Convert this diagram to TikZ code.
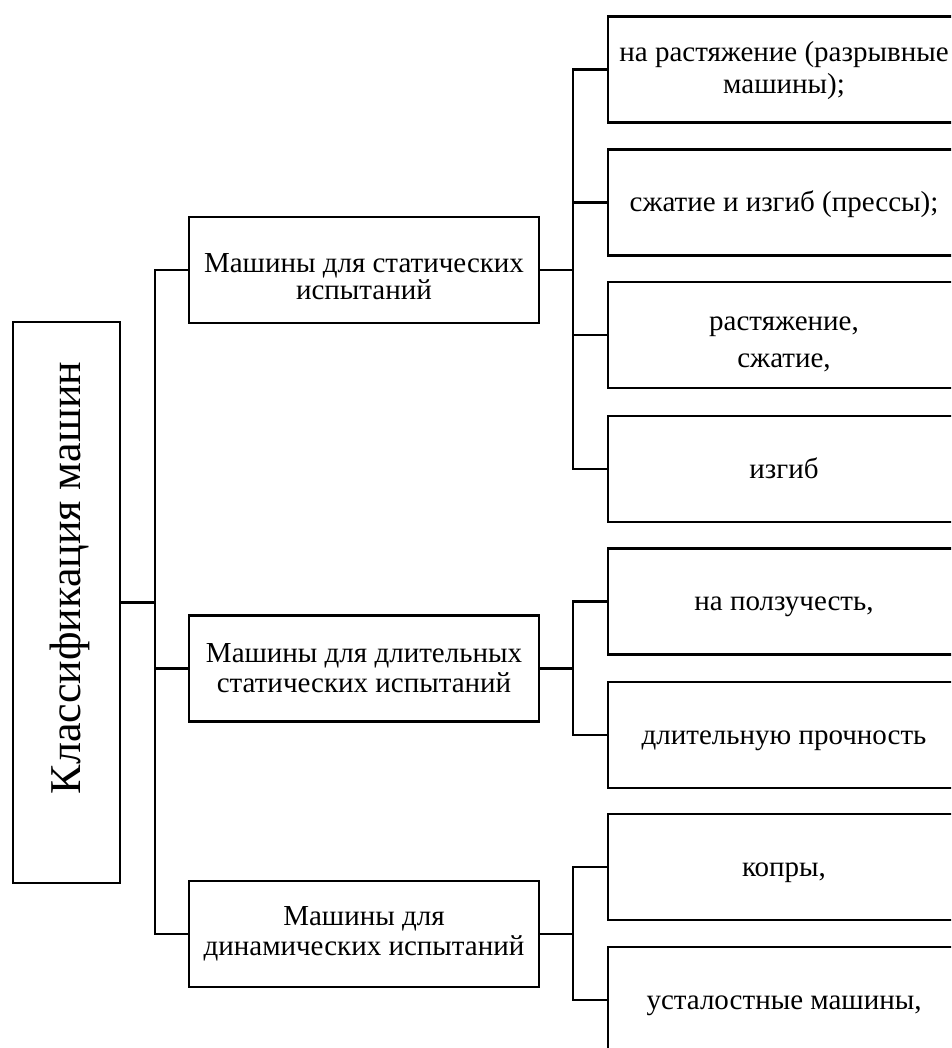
\documentclass[tikz,border=0pt]{standalone}
\usepackage{fontspec}
\setmainfont{Liberation Serif}
\lineskiplimit=-100pt
\begin{document}
\begin{tikzpicture}[x=1pt,y=-1pt,
  box/.style={draw=black, line width=2.2pt, fill=white, align=center, inner sep=0pt},
  mainbox/.style={box, minimum width=107pt, minimum height=561pt},
  catbox/.style={box, minimum width=350pt, minimum height=106pt},
  leafbox/.style={box, minimum width=352pt, minimum height=106pt, font=\fontsize{29}{28}\selectfont, text height=24pt, text depth=5.4pt},
  txt/.style={align=center, inner sep=0pt},
  conn/.style={draw=black, line width=2.2pt}]
\useasboundingbox (0,0) rectangle (951,1048);
\clip (0,0) rectangle (951,1048);
% main box
\node[mainbox] (main) at (66.5,602.5) {};
\node[rotate=90, anchor=base, inner sep=0pt, font=\fontsize{44}{50}\selectfont] (maintext) at (80,578) {Классификация машин};
% categories
\node[catbox] (A) at (364,270) {};
\node[txt, font=\fontsize{29}{27}\selectfont] (At) at ([yshift=-7pt]A.center) {Машины для статических\\испытаний};
\node[catbox] (B) at (364,668.5) {};
\node[txt, font=\fontsize{29}{30}\selectfont] (Bt) at (B.center) {Машины для длительных\\статических испытаний};
\node[catbox] (C) at (364,934) {};
\node[txt, font=\fontsize{29}{30}\selectfont] (Ct) at (C.center) {Машины для\\динамических испытаний};
% leaves
\node[leafbox] (G1) at (784,69.5) {};
\node[txt, font=\fontsize{29}{32}\selectfont] (G1t) at ([yshift=-1pt]G1.center) {на растяжение (разрывные\\машины);};
\node[leafbox] (G2) at (784,202.5) {сжатие и изгиб (прессы);};
\node[leafbox] (G3) at (784,335) {};
\node[txt, font=\fontsize{29}{37}\selectfont] (G3t) at ([yshift=-9pt]G3.center) {растяжение,\\сжатие,};
\node[leafbox] (G4) at (784,469) {изгиб};
\node[leafbox] (G5) at (784,601.5) {на ползучесть,};
\node[leafbox] (G6) at (784,735) {длительную прочность};
\node[leafbox] (G7) at (784,867) {копры,};
\node[leafbox] (G8) at (784,1000) {усталостные машины,};
% trunks
\coordinate (t1) at (155,602.5);
\coordinate (t2) at (573,270);
\coordinate (t3) at (573,668.5);
\coordinate (t4) at (573,934);
% level 1 connectors
\draw[conn] (main.east) -- (t1);
\draw[conn] (A.west) -| (t1) |- (C.west);
\draw[conn] (B.west) -- (B.west -| t1);
% group A
\draw[conn] (A.east) -- (t2);
\draw[conn] (G1.west) -| (t2) |- (G4.west);
\draw[conn] (G2.west) -- (G2.west -| t2);
\draw[conn] (G3.west) -- (G3.west -| t2);
% group B
\draw[conn] (B.east) -- (t3);
\draw[conn] (G5.west) -| (t3) |- (G6.west);
% group C
\draw[conn] (C.east) -- (t4);
\draw[conn] (G7.west) -| (t4) |- (G8.west);
\end{tikzpicture}
\end{document}
